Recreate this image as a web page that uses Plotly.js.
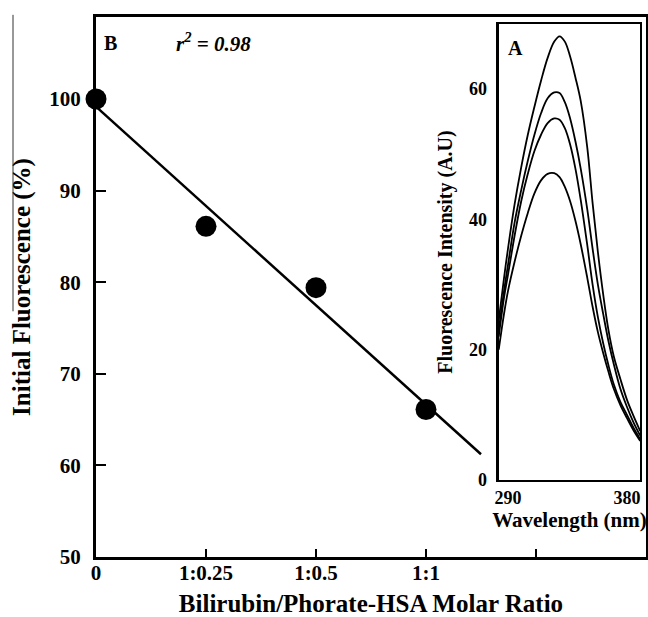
<!DOCTYPE html>
<html>
<head>
<meta charset="utf-8">
<script src="https://cdn.plot.ly/plotly-3.0.1.min.js"></script>
<style>html,body{margin:0;padding:0;background:#fff;}#chart{width:648px;height:617px;}</style>
</head>
<body>
<div id="chart"></div>
<script>
// Panel B: quenching data
const ratioPos = [0, 1, 2, 3];
const ratioLabels = ['0', '1:0.25', '1:0.5', '1:1', ' '];
const ratioTickPos = [0, 1, 2, 3, 4];
const fluorescencePct = [100, 86.1, 79.4, 66.1];
const fitExtent = [0, 3.5];
const yTicks = [50, 60, 70, 80, 90, 100];

// Panel A: emission spectra (inset)
const wavelength = [283,287,290,295,300,305,310,315,320,325,329,333,337,341,345,350,354,358,362,366,370,375,380,385,390];
const spec1 = [24.5,31,35.5,42.3,48,53,57.3,61.3,64.8,67.3,68.1,67.3,65,61.8,58.2,51,42.5,35,28.5,23,19,15.5,12.3,9.8,7.5];
const spec2 = [23,29,33,39.5,44.5,49,53,56.3,58.6,59.5,59.4,58,55.5,52,47.8,41.5,35.5,30,25.5,21.3,17.8,14,11.2,8.8,6.8];
const spec3 = [22,28,31.5,37.5,42.8,47,50.5,53,54.8,55.5,55.3,54,51.5,47.8,43,36,30,25,21,17.6,14.7,12,10,8,6.3];
const spec4 = [20,25.5,29,33.5,37.5,41,44,46,47,47.1,46.5,45,42.8,39.8,36.2,31,26.6,22.7,19.5,16.6,14,11.5,9.5,7.6,6];
const insetTicksY = [0, 20, 40, 60];
const insetTicksX = [290, 380];

// least-squares fit from the data
const n = ratioPos.length;
const mx = ratioPos.reduce((a,b)=>a+b,0)/n;
const my = fluorescencePct.reduce((a,b)=>a+b,0)/n;
let sxy=0, sxx=0;
for (let i=0;i<n;i++){ sxy += (ratioPos[i]-mx)*(fluorescencePct[i]-my); sxx += (ratioPos[i]-mx)**2; }
const slope = sxy/sxx, icpt = my - slope*mx;
const fitY = fitExtent.map(x => icpt + slope*x);

const FONT = 'Liberation Serif, Times New Roman, serif';

const traces = [
  {x: fitExtent, y: fitY, mode: 'lines', line: {color: '#000', width: 2.5}, xaxis: 'x', yaxis: 'y', hoverinfo: 'skip'},
  {x: ratioPos, y: fluorescencePct, mode: 'markers', marker: {color: '#000', size: 21}, cliponaxis: false, xaxis: 'x', yaxis: 'y'},
];
[spec1, spec2, spec3, spec4].forEach(s => traces.push({
  x: wavelength, y: s, mode: 'lines', line: {color: '#000', width: 1.8, shape: 'spline', smoothing: 1}, xaxis: 'x2', yaxis: 'y2'
}));

const layout = {
  width: 648, height: 617,
  margin: {l: 96, r: 2, t: 17, b: 60},
  paper_bgcolor: '#fff', plot_bgcolor: 'rgba(0,0,0,0)',
  showlegend: false,
  font: {family: FONT, color: '#000', size: 20},
  xaxis: {
    domain: [0, 1], range: [0, 5], tickvals: ratioTickPos, ticktext: ratioLabels,
    showgrid: false, zeroline: false, showline: true, linewidth: 3, linecolor: '#000', mirror: true,
    ticks: 'inside', ticklen: 8, tickwidth: 2, tickcolor: '#000', ticklabelstandoff: -5,
    tickfont: {family: FONT, size: 21, weight: 'bold'},
    title: {text: '<b>Bilirubin/Phorate-HSA Molar Ratio</b>', font: {family: FONT, size: 25}, standoff: 14}
  },
  yaxis: {
    domain: [0, 1], range: [50, 108.95], tickvals: yTicks,
    showgrid: false, zeroline: false, showline: true, linewidth: 3, linecolor: '#000', mirror: true,
    ticks: 'inside', ticklen: 10, tickwidth: 2, tickcolor: '#000', ticklabelstandoff: 8,
    tickfont: {family: FONT, size: 21, weight: 'bold'},
    title: {text: '<b>Initial Fluorescence (%)</b>', font: {family: FONT, size: 25}, standoff: 12}
  },
  xaxis2: {
    domain: [0.7327, 0.989], range: [283.2, 389.8], anchor: 'y2', tickvals: insetTicksX,
    showgrid: false, zeroline: false, showline: true, linewidth: 2.5, linecolor: '#000', mirror: true,
    ticks: '', tickfont: {family: FONT, size: 18, weight: 'bold'},
    title: {text: '<b>Wavelength (nm)</b>', font: {family: FONT, size: 21}, standoff: 0}
  },
  yaxis2: {
    domain: [0.1426, 0.987], range: [0, 70], anchor: 'x2', tickvals: insetTicksY,
    showgrid: false, zeroline: false, showline: true, linewidth: 2.5, linecolor: '#000', mirror: true,
    ticks: '', ticklabelstandoff: 6, tickfont: {family: FONT, size: 18, weight: 'bold'},
    title: {text: '<b>Fluorescence Intensity (A.U)</b>', font: {family: FONT, size: 20}, standoff: 11}
  },
  shapes: [
    {type: 'line', xref: 'paper', yref: 'paper', x0: -0.1509, x1: -0.1509, y0: 1.004, y1: 0.455, line: {color: '#333', width: 1}}
  ],
  annotations: [
    {text: '<b>B</b>', xref: 'paper', yref: 'paper', x: 0.0255, y: 0.952, xanchor: 'center', yanchor: 'middle', showarrow: false, font: {family: FONT, size: 20}},
    {text: '<b><i>r<sup>2</sup> = 0.98</i></b>', xref: 'paper', yref: 'paper', x: 0.214, y: 0.952, xanchor: 'center', yanchor: 'middle', showarrow: false, font: {family: FONT, size: 21}},
    {text: '<b>A</b>', xref: 'paper', yref: 'paper', x: 0.763, y: 0.942, xanchor: 'center', yanchor: 'middle', showarrow: false, font: {family: FONT, size: 20}}
  ]
};

Plotly.newPlot('chart', traces, layout, {displayModeBar: false, staticPlot: true});
</script>
</body>
</html>
